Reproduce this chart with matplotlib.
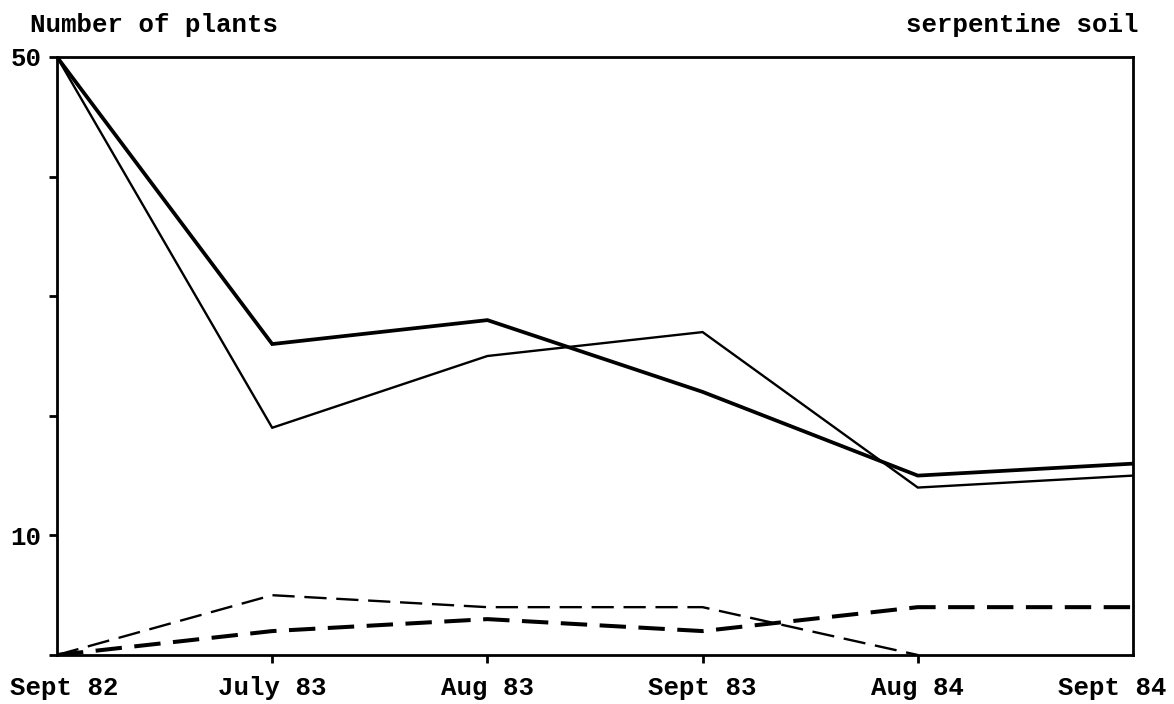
import numpy as np
import matplotlib
matplotlib.use('Agg')
import matplotlib.pyplot as plt
import matplotlib.transforms as mtransforms

plt.rcParams['font.family'] = ['Liberation Mono', 'DejaVu Sans Mono']
plt.rcParams['font.weight'] = 'bold'
plt.rcParams['lines.scale_dashes'] = False

# Data
dates = ['Sept 82', 'July 83', 'Aug 83', 'Sept 83', 'Aug 84', 'Sept 84']
thick_solid = [50, 26, 28, 22, 15, 16]
thin_solid = [50, 19, 25, 27, 14, 15]
thin_dashed = [0, 5, 4, 4, 0]          # ends at Aug 84
thick_dashed = [0, 2, 3, 2, 4, 4]

x = np.arange(len(dates))

fig = plt.figure(figsize=(11.74, 7.04), dpi=100)
ax = fig.add_axes([57 / 1174, 1 - 655 / 704, (1133 - 57) / 1174, (655 - 57) / 704])

ax.plot(x, thick_solid, color='black', lw=2.7, solid_joinstyle='miter')
ax.plot(x, thin_solid, color='black', lw=1.7, solid_joinstyle='miter')
ax.plot(x[:len(thin_dashed)], thin_dashed, color='black', lw=1.7, dashes=(16, 7))
ax.plot(x, thick_dashed, color='black', lw=2.9, dashes=(19, 9))

ax.set_xlim(0, len(dates) - 1)
ax.set_ylim(0, 50)

for s in ax.spines.values():
    s.set_linewidth(2)

ax.set_xticks(x)
ax.set_xticklabels(dates, fontsize=18.5, fontweight='bold')
ax.tick_params(axis='x', direction='out', length=6, width=2, pad=9)
ticks = ax.xaxis.get_major_ticks()
ticks[0].tick1line.set_visible(False)
ticks[-1].tick1line.set_visible(False)

# shift the first/last date labels to fit inside the figure
lab = ax.get_xticklabels()
lab[0].set_transform(lab[0].get_transform() + mtransforms.ScaledTranslation(7 / 100, 0, fig.dpi_scale_trans))
lab[-1].set_transform(lab[-1].get_transform() + mtransforms.ScaledTranslation(-21 / 100, 0, fig.dpi_scale_trans))

ax.set_yticks([0, 10, 20, 30, 40, 50])
ax.set_yticklabels(['', '10', '', '', '', '50'], fontsize=18.5, fontweight='bold')
ax.tick_params(axis='y', direction='out', length=6, width=2, pad=5)

fig.text(30 / 1174, 1 - 25 / 704, 'Number of plants', fontsize=18.5, fontweight='bold',
         ha='left', va='center')
fig.text(1138 / 1174, 1 - 25 / 704, 'serpentine soil', fontsize=18.5, fontweight='bold',
         ha='right', va='center')

plt.savefig('out.png', dpi=100)
